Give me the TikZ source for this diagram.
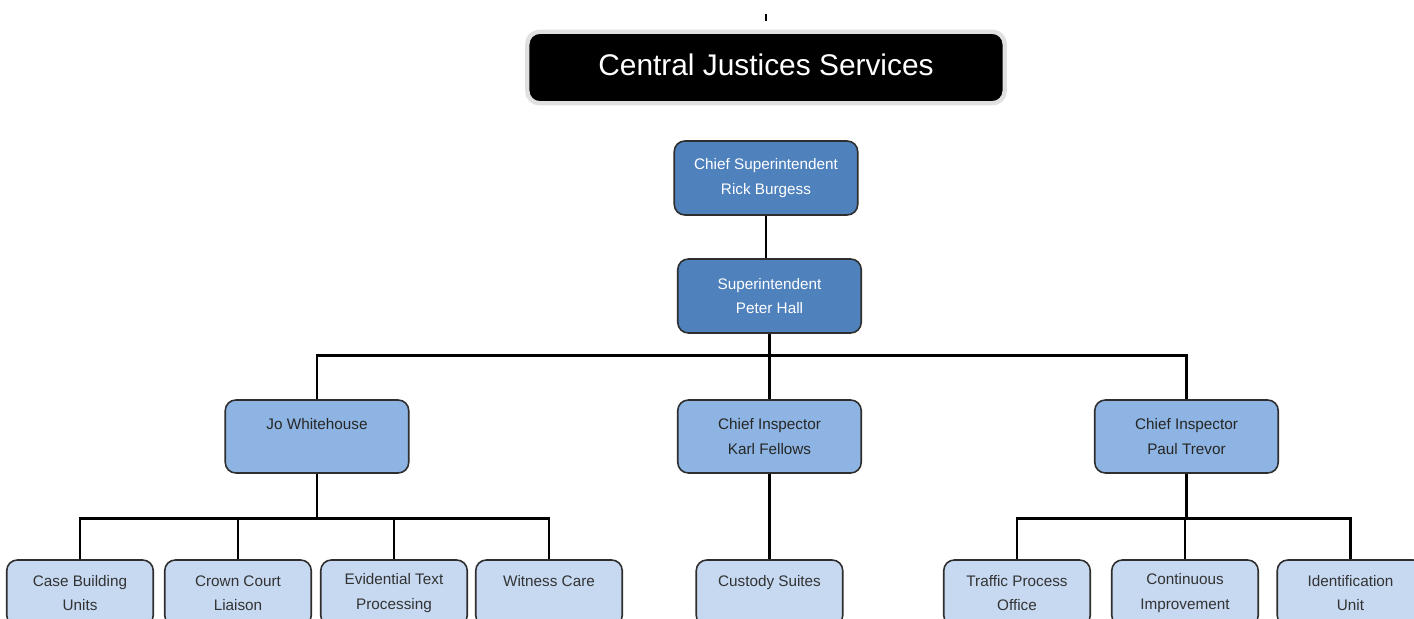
\documentclass[tikz,border=0pt]{standalone}
\usepackage{fontspec}
\setmainfont{Liberation Sans}
\definecolor{darkblue}{HTML}{4F81BD}
\definecolor{midblue}{HTML}{8DB4E2}
\definecolor{paleblue}{HTML}{C6D9F1}
\definecolor{edgegray}{HTML}{2E2E2E}
\tikzset{
  unitbox/.style={draw=edgegray, line width=0.9pt, rounded corners=6pt, align=center,
    inner sep=0pt, font=\fontsize{8.7}{13.9}\selectfont},
  headbox/.style={unitbox, fill=darkblue, text=white, minimum width=3.67cm, minimum height=1.48cm},
  leadbox/.style={unitbox, fill=midblue, text=black!85, minimum width=3.67cm, minimum height=1.46cm},
  teambox/.style={unitbox, fill=paleblue, text=black!80, minimum width=2.93cm, minimum height=1.32cm},
  link/.style={line width=1.6pt, black},
}
\begin{document}
\begin{tikzpicture}[x=0.02cm, y=-0.02cm]
  \clip (0,0) rectangle (1414,619);
  \fill[white] (0,0) rectangle (1414,619);
  % title
  \coordinate (tick) at (766,14);
  \draw[line width=1.5pt] (tick) -- ++(0,7);
  \node[draw=black!12, line width=2.5pt, fill=black, rounded corners=7pt, text=white,
    minimum width=9.55cm, minimum height=1.43cm, font=\fontsize{17}{20}\selectfont]
    (title) at (766,67.5) {\raisebox{3pt}{Central Justices Services}};
  % top of the chain
  \node[headbox] (chief) at (766,178) {Chief Superintendent\\Rick Burgess};
  \node[headbox] (supt) at (769.5,296) {Superintendent\\Peter Hall};
  \node[leadbox] (jo) at (317,436.5) {Jo Whitehouse\\~};
  \node[leadbox] (karl) at (769.5,436.5) {Chief Inspector\\Karl Fellows};
  \node[leadbox] (paul) at (1186.5,436.5) {Chief Inspector\\Paul Trevor};
  % teams
  \node[teambox] (case) at (80,593) {Case Building\\Units};
  \node[teambox] (crown) at (238,593) {Crown Court\\Liaison};
  \node[teambox] (evid) at (394,593) {Evidential Text\\Processing};
  \node[teambox] (witness) at (549,593) {Witness Care\\~};
  \node[teambox] (custody) at (769.5,593) {Custody Suites\\~};
  \node[teambox] (traffic) at (1017,593) {Traffic Process\\Office};
  \node[teambox] (contin) at (1185,593) {Continuous\\Improvement};
  \node[teambox] (ident) at (1350.5,593) {Identification\\Unit};
  % connectors
  \draw[link] (chief.south) -- (chief.south |- supt.north);
  \draw[link] (supt.south) -- (karl.north);
  \draw[link] (supt.south) -- ++(0,22) -| (jo.north);
  \draw[link] (supt.south) -- ++(0,22) -| (paul.north);
  \draw[link] (karl.south) -- (custody.north);
  \foreach \team in {case,crown,evid,witness}
    \draw[link] (jo.south) -- ++(0,45) -| (\team.north);
  \foreach \team in {traffic,contin,ident}
    \draw[link] (paul.south) -- ++(0,45) -| (\team.north);
\end{tikzpicture}
\end{document}
